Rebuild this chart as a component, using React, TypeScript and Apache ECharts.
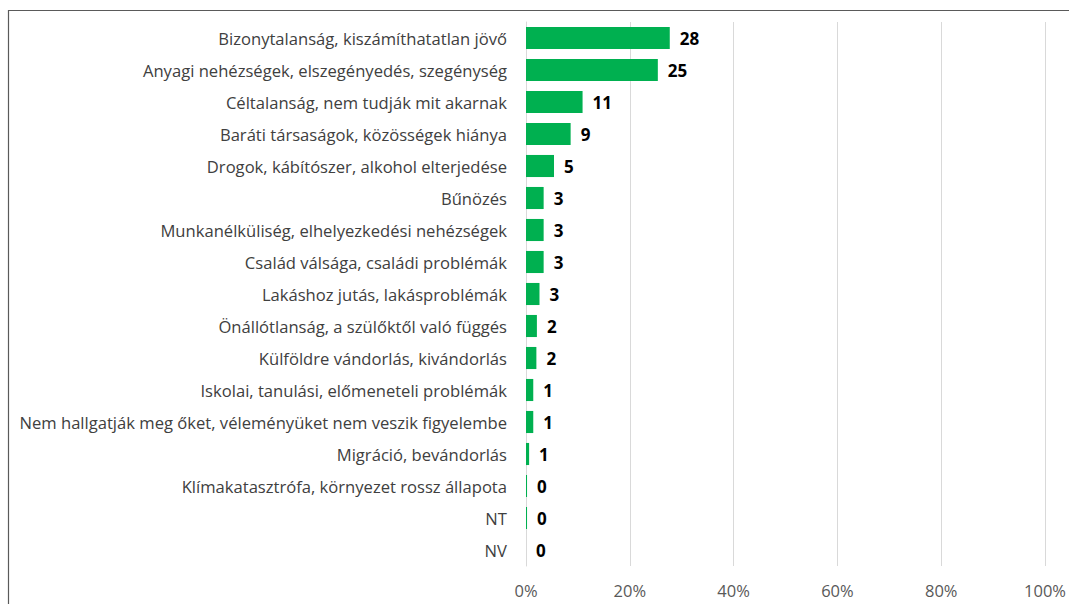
import React, { useEffect, useRef } from "react";
import * as echarts from "echarts";

const categories = [
  "Bizonytalanság, kiszámíthatatlan jövő",
  "Anyagi nehézségek, elszegényedés, szegénység",
  "Céltalanság, nem tudják mit akarnak",
  "Baráti társaságok, közösségek hiánya",
  "Drogok, kábítószer, alkohol elterjedése",
  "Bűnözés",
  "Munkanélküliség, elhelyezkedési nehézségek",
  "Család válsága, családi problémák",
  "Lakáshoz jutás, lakásproblémák",
  "Önállótlanság, a szülőktől való függés",
  "Külföldre vándorlás, kivándorlás",
  "Iskolai, tanulási, előmeneteli problémák",
  "Nem hallgatják meg őket, véleményüket nem veszik figyelembe",
  "Migráció, bevándorlás",
  "Klímakatasztrófa, környezet rossz állapota",
  "NT",
  "NV",
];
const values = [27.7, 25.4, 10.9, 8.6, 5.4, 3.4, 3.4, 3.4, 2.6, 2.1, 2.0, 1.4, 1.4, 0.6, 0.2, 0.2, 0];
const valueLabels = ["28", "25", "11", "9", "5", "3", "3", "3", "3", "2", "2", "1", "1", "1", "0", "0", "0"];
const xTicks = [0, 20, 40, 60, 80, 100];

export default function App() {
  const ref = useRef<HTMLDivElement>(null);
  useEffect(() => {
    if (!ref.current) return;
    const chart = echarts.init(ref.current, undefined, { renderer: "svg" });
    const font = "'Open Sans', 'Noto Sans', sans-serif";
    chart.setOption({
      animation: false,
      backgroundColor: "#ffffff",
      grid: { left: 526, right: 20.5, top: 22, bottom: 38, containLabel: false },
      graphic: [
        {
          type: "rect",
          shape: { x: 8.5, y: 10.5, width: 1200, height: 800 },
          style: { fill: "none", stroke: "#5a5a5a", lineWidth: 1.2 },
          silent: true,
        },
      ],
      xAxis: {
        type: "value",
        min: 0,
        max: 100,
        interval: 20,
        axisLine: { show: false },
        axisTick: { show: false },
        splitLine: { show: true, lineStyle: { color: "#d9d9d9", width: 1 } },
        axisLabel: {
          formatter: (v: number) => (xTicks.includes(v) ? v + "%" : ""),
          color: "#595959",
          fontSize: 16.5,
          fontFamily: font,
          margin: 16,
        },
      },
      yAxis: {
        type: "category",
        data: categories,
        inverse: true,
        axisLine: { show: true, lineStyle: { color: "#d9d9d9", width: 1 } },
        axisTick: { show: false },
        axisLabel: {
          color: "#404040",
          fontSize: 16.6,
          fontFamily: font,
          margin: 19,
        },
      },
      series: [
        {
          type: "bar",
          data: values,
          barCategoryGap: "31%",
          itemStyle: { color: "#00b050" },
          label: {
            show: true,
            position: "right",
            distance: 10,
            formatter: (p: any) => valueLabels[p.dataIndex],
            color: "#000000",
            fontWeight: "bold",
            fontSize: 17,
            fontFamily: font,
          },
        },
      ],
    });
    return () => chart.dispose();
  }, []);
  return (
    <div
      ref={ref}
      style={{ position: "fixed", left: 0, top: 0, width: 1069, height: 604 }}
    />
  );
}
